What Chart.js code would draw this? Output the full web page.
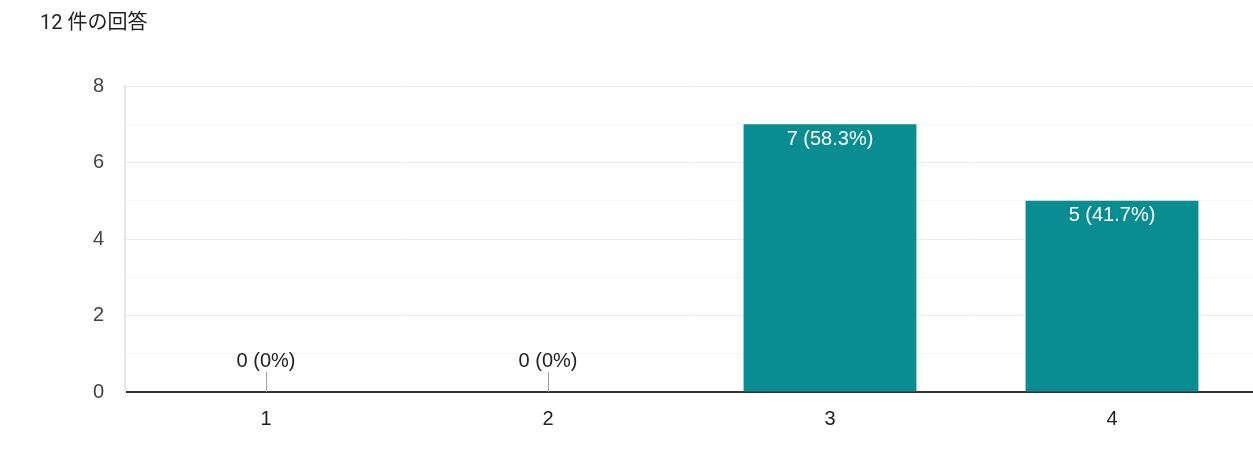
<!DOCTYPE html>
<html>
<head>
<meta charset="utf-8">
<script src="https://cdn.jsdelivr.net/npm/chart.js@4"></script>
<style>
    body { margin: 0; background: #fff; }
    #wrap { position: relative; width: 1253px; height: 476px; }
    #title { position: absolute; left: 40px; top: 6px; font: 20px Roboto, "Noto Sans CJK JP", sans-serif; color: #202124; }
</style>
</head>
<body>
<div id="wrap">
    <div id="title">12 件の回答</div>
    <canvas id="myChart" width="1253" height="476"></canvas>
</div>
<script>
const labels = ['1', '2', '3', '4'];
const counts = [0, 0, 7, 5];
const percents = ['0%', '0%', '58.3%', '41.7%'];

const FONT = '"Liberation Sans", Arial, sans-serif';

// draw "n (x%)" labels: inside the bar top, or above a small stick for zero
const barLabels = {
    id: 'barLabels',
    afterDatasetsDraw(chart) {
        const ctx = chart.ctx;
        const meta = chart.getDatasetMeta(0);
        ctx.save();
        ctx.font = '20px ' + FONT;
        ctx.textAlign = 'center';
        ctx.textBaseline = 'middle';
        meta.data.forEach(function(bar, i) {
            const text = counts[i] + ' (' + percents[i] + ')';
            if (counts[i] === 0) {
                ctx.strokeStyle = '#9e9e9e';
                ctx.lineWidth = 1;
                ctx.beginPath();
                ctx.moveTo(Math.round(bar.x) + 0.5, bar.y);
                ctx.lineTo(Math.round(bar.x) + 0.5, bar.y - 20);
                ctx.stroke();
                ctx.fillStyle = '#222';
                ctx.fillText(text, bar.x, bar.y - 31);
            } else {
                ctx.fillStyle = '#fff';
                ctx.fillText(text, bar.x, bar.y + 15);
            }
        });
        ctx.restore();
    }
};

function draw_chart() {
    const ctx = document.getElementById('myChart');
    new Chart(ctx, {
        type: 'bar',
        data: {
            labels: labels,
            datasets: [{
                data: counts,
                backgroundColor: '#0a8d91',
                barPercentage: 0.613,
                categoryPercentage: 1.0
            }]
        },
        plugins: [barLabels],
        options: {
            responsive: false,
            animation: false,
            layout: {
                padding: { top: 86, right: 0, bottom: 0, left: 0 }
            },
            plugins: {
                legend: { display: false },
                tooltip: { enabled: false }
            },
            scales: {
                x: {
                    grid: { display: false, drawTicks: false },
                    border: { color: '#333', width: 2 },
                    ticks: {
                        padding: 15,
                        color: '#222',
                        font: { size: 20, family: FONT }
                    },
                    afterFit: function(scale) { scale.height = 84; }
                },
                y: {
                    min: 0,
                    max: 8,
                    border: { color: '#e6e6e6', width: 2 },
                    grid: {
                        drawTicks: false,
                        color: function(c) {
                            return c.tick && c.tick.value % 2 === 0 ? '#ebebeb' : '#f6f6f6';
                        }
                    },
                    ticks: {
                        stepSize: 1,
                        padding: 21,
                        color: '#444',
                        font: { size: 20, family: FONT },
                        callback: function(value) {
                            return value % 2 === 0 ? value : '';
                        }
                    },
                    afterFit: function(scale) { scale.width = 125; }
                }
            }
        }
    });
}
draw_chart();
</script>
</body>
</html>
